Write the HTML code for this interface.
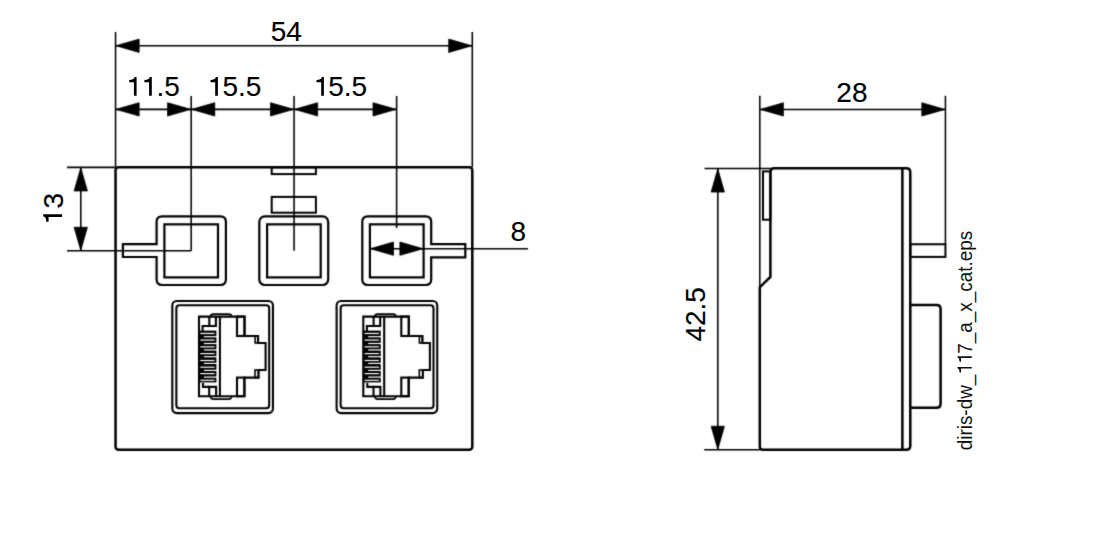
<!DOCTYPE html>
<html><head><meta charset="utf-8"><style>
html,body{margin:0;padding:0;background:#fff;}
svg{display:block;}
text{font-family:"Liberation Sans",sans-serif;fill:#000;stroke:#000;stroke-width:0.15;}
</style></head><body>
<svg width="1110" height="533" viewBox="0 0 1110 533" fill="none" stroke="#000" stroke-linejoin="miter" stroke-linecap="butt">
<defs><filter id="bl" x="-1%" y="-1%" width="102%" height="102%" color-interpolation-filters="sRGB"><feConvolveMatrix order="3" kernelMatrix="0.0192 0.1001 0.0192 0.1001 0.5228 0.1001 0.0192 0.1001 0.0192" divisor="1" preserveAlpha="false"/></filter></defs>
<rect x="0" y="0" width="1110" height="533" fill="#fff" stroke="none"/>
<g filter="url(#bl)">
<line x1="115.55" y1="32" x2="115.55" y2="167.35" stroke-width="1.55"/>
<line x1="472.3" y1="32" x2="472.3" y2="167.35" stroke-width="1.55"/>
<line x1="115.55" y1="45.78" x2="472.3" y2="45.78" stroke-width="1.55"/>
<polygon points="115.95,45.78 139.15,39.12 139.15,52.44" fill="#000" stroke="#000" stroke-width="0.8" stroke-linejoin="round"/>
<polygon points="471.90,45.78 448.70,39.12 448.70,52.44" fill="#000" stroke="#000" stroke-width="0.8" stroke-linejoin="round"/>
<line x1="191.19" y1="96" x2="191.19" y2="250.84" stroke-width="1.55"/>
<line x1="294.07" y1="96" x2="294.07" y2="250.84" stroke-width="1.55"/>
<line x1="396.62" y1="96" x2="396.62" y2="228" stroke-width="1.55"/>
<line x1="115.55" y1="109.37" x2="396.62" y2="109.37" stroke-width="1.55"/>
<polygon points="115.95,109.37 139.15,102.71 139.15,116.03" fill="#000" stroke="#000" stroke-width="0.8" stroke-linejoin="round"/>
<polygon points="190.79,109.37 167.59,102.71 167.59,116.03" fill="#000" stroke="#000" stroke-width="0.8" stroke-linejoin="round"/>
<polygon points="191.59,109.37 214.79,102.71 214.79,116.03" fill="#000" stroke="#000" stroke-width="0.8" stroke-linejoin="round"/>
<polygon points="293.67,109.37 270.47,102.71 270.47,116.03" fill="#000" stroke="#000" stroke-width="0.8" stroke-linejoin="round"/>
<polygon points="294.47,109.37 317.67,102.71 317.67,116.03" fill="#000" stroke="#000" stroke-width="0.8" stroke-linejoin="round"/>
<polygon points="396.22,109.37 373.02,102.71 373.02,116.03" fill="#000" stroke="#000" stroke-width="0.8" stroke-linejoin="round"/>
<line x1="67" y1="167.38" x2="115.55" y2="167.38" stroke-width="1.55"/>
<line x1="67" y1="250.84" x2="191.19" y2="250.84" stroke-width="1.55"/>
<line x1="80.78" y1="167.38" x2="80.78" y2="250.84" stroke-width="1.55"/>
<polygon points="80.78,167.78 74.12,190.98 87.44,190.98" fill="#000" stroke="#000" stroke-width="0.8" stroke-linejoin="round"/>
<polygon points="80.78,250.44 74.12,227.24 87.44,227.24" fill="#000" stroke="#000" stroke-width="0.8" stroke-linejoin="round"/>
<rect x="115.55" y="167.35" width="356.75" height="282.49" rx="3" stroke-width="2.5"/>
<rect x="271.7" y="167.35" width="44.20" height="6.75" rx="0" stroke-width="2.0"/>
<rect x="271.7" y="196.9" width="44.20" height="15.80" rx="0" stroke-width="2.0"/>
<path d="M156.6,244.1 L122.9,244.1 L122.9,257 L156.6,257 L156.6,279.5 Q156.6,285.0 162.1,285.0 L220.4,285.0 Q225.9,285.0 225.9,279.5 L225.9,221.8 Q225.9,216.3 220.4,216.3 L162.1,216.3 Q156.6,216.3 156.6,221.8 Z" stroke-width="2.2"/>
<rect x="164.4" y="224.35" width="53.60" height="53.05" rx="0" stroke-width="2.2"/>
<rect x="259.3" y="216.3" width="68.90" height="68.70" rx="5.5" stroke-width="2.2"/>
<rect x="267.1" y="224.35" width="53.60" height="53.05" rx="0" stroke-width="2.2"/>
<path d="M431.2,257.4 L465.3,257.4 L465.3,244.2 L431.2,244.2 L431.2,221.8 Q431.2,216.3 425.7,216.3 L367.8,216.3 Q362.3,216.3 362.3,221.8 L362.3,279.5 Q362.3,285.0 367.8,285.0 L425.7,285.0 Q431.2,285.0 431.2,279.5 Z" stroke-width="2.2"/>
<rect x="369.9" y="224.35" width="53.70" height="53.05" rx="0" stroke-width="2.2"/>
<line x1="369.9" y1="248.7" x2="528" y2="248.7" stroke-width="1.55"/>
<polygon points="370.30,248.70 393.50,242.04 393.50,255.36" fill="#000" stroke="#000" stroke-width="0.8" stroke-linejoin="round"/>
<polygon points="423.10,248.70 399.90,242.04 399.90,255.36" fill="#000" stroke="#000" stroke-width="0.8" stroke-linejoin="round"/>
<rect x="172.3" y="300.95" width="100.65" height="112.15" rx="4.5" stroke-width="2.1"/>
<rect x="176.36" y="305.3" width="92.84" height="103.00" rx="3" stroke-width="2.1"/>
<path d="M199,316.6 L244.5,316.6 L244.5,336 L258.1,336 L258.1,343 L265.6,343 L265.6,370 L258.5,370 L258.5,377.6 L244.4,377.6 L244.4,396.2 L199,396.2 Z" stroke-width="2.1"/>
<path d="M210.4,316.6 Q210.8,314.1 213.2,314.1 L229,314.1 Q231.3,314.1 231.7,316.6" stroke-width="1.7"/>
<path d="M210.4,396.2 Q210.8,399.1 213.2,399.1 L229,399.1 Q231.3,399.1 231.7,396.2" stroke-width="1.7"/>
<rect x="237" y="316.6" width="7.50" height="19.40" rx="0" stroke-width="2.1"/>
<rect x="237" y="377.6" width="7.40" height="18.60" rx="0" stroke-width="2.1"/>
<rect x="255.1" y="336" width="3.00" height="7.00" rx="0" stroke-width="1.6"/>
<rect x="255" y="370" width="3.50" height="7.60" rx="0" stroke-width="1.6"/>
<line x1="219.9" y1="316.6" x2="219.9" y2="396.2" stroke-width="2.1"/>
<path d="M209.3,316.6 L209.3,326 L215.9,326 L215.9,316.6" stroke-width="2.1"/>
<path d="M202.6,331 L202.6,326 L209.3,326" stroke-width="2.1"/>
<path d="M209.2,396.2 L209.2,386.9 L216.1,386.9 L216.1,396.2" stroke-width="2.1"/>
<path d="M203,383 L203,386.9 L209.2,386.9" stroke-width="2.1"/>
<rect x="198.5" y="330.6" width="17.9" height="51.8" fill="#000" stroke="none"/>
<rect x="200.3" y="332.86" width="14.3" height="1.2" fill="#fff" stroke="none"/>
<rect x="200.3" y="339.50" width="14.3" height="1.2" fill="#fff" stroke="none"/>
<rect x="200.3" y="346.25" width="14.3" height="1.2" fill="#fff" stroke="none"/>
<rect x="200.3" y="353.00" width="14.3" height="1.2" fill="#fff" stroke="none"/>
<rect x="200.3" y="359.90" width="14.3" height="1.2" fill="#fff" stroke="none"/>
<rect x="200.3" y="366.60" width="14.3" height="1.2" fill="#fff" stroke="none"/>
<rect x="200.3" y="373.00" width="14.3" height="1.2" fill="#fff" stroke="none"/>
<rect x="200.3" y="379.70" width="14.3" height="1.2" fill="#fff" stroke="none"/>
<rect x="203.9" y="336.10" width="14.5" height="1.2" fill="#fff" stroke="none"/>
<rect x="203.9" y="342.90" width="14.5" height="1.2" fill="#fff" stroke="none"/>
<rect x="203.9" y="349.35" width="14.5" height="1.2" fill="#fff" stroke="none"/>
<rect x="203.9" y="356.10" width="14.5" height="1.2" fill="#fff" stroke="none"/>
<rect x="203.9" y="362.80" width="14.5" height="1.2" fill="#fff" stroke="none"/>
<rect x="203.9" y="369.80" width="14.5" height="1.2" fill="#fff" stroke="none"/>
<rect x="203.9" y="376.50" width="14.5" height="1.2" fill="#fff" stroke="none"/>
<rect x="336.6" y="300.95" width="100.65" height="112.15" rx="4.5" stroke-width="2.1"/>
<rect x="340.66" y="305.3" width="92.84" height="103.00" rx="3" stroke-width="2.1"/>
<path d="M363.3,316.6 L408.8,316.6 L408.8,336 L422.4,336 L422.4,343 L429.9,343 L429.9,370 L422.8,370 L422.8,377.6 L408.7,377.6 L408.7,396.2 L363.3,396.2 Z" stroke-width="2.1"/>
<path d="M374.7,316.6 Q375.1,314.1 377.5,314.1 L393.3,314.1 Q395.6,314.1 396.0,316.6" stroke-width="1.7"/>
<path d="M374.7,396.2 Q375.1,399.1 377.5,399.1 L393.3,399.1 Q395.6,399.1 396.0,396.2" stroke-width="1.7"/>
<rect x="401.3" y="316.6" width="7.50" height="19.40" rx="0" stroke-width="2.1"/>
<rect x="401.3" y="377.6" width="7.40" height="18.60" rx="0" stroke-width="2.1"/>
<rect x="419.4" y="336" width="3.00" height="7.00" rx="0" stroke-width="1.6"/>
<rect x="419.3" y="370" width="3.50" height="7.60" rx="0" stroke-width="1.6"/>
<line x1="384.2" y1="316.6" x2="384.2" y2="396.2" stroke-width="2.1"/>
<path d="M373.6,316.6 L373.6,326 L380.2,326 L380.2,316.6" stroke-width="2.1"/>
<path d="M366.9,331 L366.9,326 L373.6,326" stroke-width="2.1"/>
<path d="M373.5,396.2 L373.5,386.9 L380.4,386.9 L380.4,396.2" stroke-width="2.1"/>
<path d="M367.3,383 L367.3,386.9 L373.5,386.9" stroke-width="2.1"/>
<rect x="362.8" y="330.6" width="17.9" height="51.8" fill="#000" stroke="none"/>
<rect x="364.6" y="332.86" width="14.3" height="1.2" fill="#fff" stroke="none"/>
<rect x="364.6" y="339.50" width="14.3" height="1.2" fill="#fff" stroke="none"/>
<rect x="364.6" y="346.25" width="14.3" height="1.2" fill="#fff" stroke="none"/>
<rect x="364.6" y="353.00" width="14.3" height="1.2" fill="#fff" stroke="none"/>
<rect x="364.6" y="359.90" width="14.3" height="1.2" fill="#fff" stroke="none"/>
<rect x="364.6" y="366.60" width="14.3" height="1.2" fill="#fff" stroke="none"/>
<rect x="364.6" y="373.00" width="14.3" height="1.2" fill="#fff" stroke="none"/>
<rect x="364.6" y="379.70" width="14.3" height="1.2" fill="#fff" stroke="none"/>
<rect x="368.2" y="336.10" width="14.5" height="1.2" fill="#fff" stroke="none"/>
<rect x="368.2" y="342.90" width="14.5" height="1.2" fill="#fff" stroke="none"/>
<rect x="368.2" y="349.35" width="14.5" height="1.2" fill="#fff" stroke="none"/>
<rect x="368.2" y="356.10" width="14.5" height="1.2" fill="#fff" stroke="none"/>
<rect x="368.2" y="362.80" width="14.5" height="1.2" fill="#fff" stroke="none"/>
<rect x="368.2" y="369.80" width="14.5" height="1.2" fill="#fff" stroke="none"/>
<rect x="368.2" y="376.50" width="14.5" height="1.2" fill="#fff" stroke="none"/>
<line x1="759.8" y1="95.8" x2="759.8" y2="287.2" stroke-width="1.55"/>
<line x1="945.43" y1="95.8" x2="945.43" y2="244.2" stroke-width="1.55"/>
<line x1="759.8" y1="109.4" x2="945.43" y2="109.4" stroke-width="1.55"/>
<polygon points="760.20,109.40 783.40,102.74 783.40,116.06" fill="#000" stroke="#000" stroke-width="0.8" stroke-linejoin="round"/>
<polygon points="945.03,109.40 921.83,102.74 921.83,116.06" fill="#000" stroke="#000" stroke-width="0.8" stroke-linejoin="round"/>
<line x1="704.5" y1="168.46" x2="772" y2="168.46" stroke-width="1.55"/>
<line x1="704.2" y1="449.82" x2="759.8" y2="449.82" stroke-width="1.55"/>
<line x1="717.8" y1="168.46" x2="717.8" y2="449.82" stroke-width="1.55"/>
<polygon points="717.80,168.86 711.14,192.06 724.46,192.06" fill="#000" stroke="#000" stroke-width="0.8" stroke-linejoin="round"/>
<polygon points="717.80,449.42 711.14,426.22 724.46,426.22" fill="#000" stroke="#000" stroke-width="0.8" stroke-linejoin="round"/>
<path d="M770.4,172.3 Q770.4,168.3 774.4,168.3 L906.28,168.3 Q910.28,168.3 910.28,172.3 L910.28,445.82 Q910.28,449.82 906.28,449.82 L762.8,449.82 Q759.8,449.82 759.8,446.82 L759.8,287.2 L770.4,277 Z" stroke-width="2.5"/>
<line x1="902.39" y1="168.3" x2="902.39" y2="449.82" stroke-width="2.5"/>
<rect x="763" y="171.4" width="7.40" height="48.30" rx="0" stroke-width="2.0"/>
<rect x="910.28" y="244.25" width="35.15" height="12.65" rx="0" stroke-width="2.0"/>
<path d="M910.28,305 L936.6,305 Q940.6,305 940.6,309 L940.6,403.7 Q940.6,407.7 936.6,407.7 L910.28,407.7" stroke-width="2.5"/>
</g>
<text x="286.3" y="40.7" font-size="28" text-anchor="middle">54</text>
<text x="152.6" y="95.9" font-size="28" text-anchor="middle">  .5</text>
<text x="234.1" y="95.9" font-size="28" text-anchor="middle"> 5.5</text>
<text x="339.9" y="95.9" font-size="28" text-anchor="middle"> 5.5</text>
<path d="M-2.7,0 L0,0 L0,-18.9 L-2.0,-18.9 C-2.6,-16.6 -4.5,-15.9 -7.4,-15.9 L-7.4,-13.5 L-2.7,-13.5 Z" transform="translate(136.6 95.8)" fill="#000" stroke="none"/>
<path d="M-2.7,0 L0,0 L0,-18.9 L-2.0,-18.9 C-2.6,-16.6 -4.5,-15.9 -7.4,-15.9 L-7.4,-13.5 L-2.7,-13.5 Z" transform="translate(151.8 95.8)" fill="#000" stroke="none"/>
<path d="M-2.7,0 L0,0 L0,-18.9 L-2.0,-18.9 C-2.6,-16.6 -4.5,-15.9 -7.4,-15.9 L-7.4,-13.5 L-2.7,-13.5 Z" transform="translate(217.9 95.8)" fill="#000" stroke="none"/>
<path d="M-2.7,0 L0,0 L0,-18.9 L-2.0,-18.9 C-2.6,-16.6 -4.5,-15.9 -7.4,-15.9 L-7.4,-13.5 L-2.7,-13.5 Z" transform="translate(323.9 95.8)" fill="#000" stroke="none"/>
<text x="0" y="0" transform="translate(63 208.5) rotate(-90)" font-size="28" text-anchor="middle"> 3</text>
<path d="M-2.7,0 L0,0 L0,-18.9 L-2.0,-18.9 C-2.6,-16.6 -4.5,-15.9 -7.4,-15.9 L-7.4,-13.5 L-2.7,-13.5 Z" transform="translate(62.1 214.3) rotate(-90)" fill="#000" stroke="none"/>
<text x="518.3" y="241.3" font-size="28" text-anchor="middle">8</text>
<text x="851.9" y="101.9" font-size="28" text-anchor="middle">28</text>
<text x="0" y="0" transform="translate(704.5 314.3) rotate(-90)" font-size="28" text-anchor="middle">42.5</text>
<text x="0" y="0" transform="translate(971.8 450.3) rotate(-90)" font-size="20.5" textLength="219.5" lengthAdjust="spacingAndGlyphs" style="stroke:none;fill:#111">diris-dw_  7_a_x_cat.eps</text>
<path d="M-2.1,0 L0,0 L0,-18.9 L-1.7,-18.9 C-2.3,-16.8 -4.3,-16.2 -7.2,-16.2 L-7.2,-14.2 L-2.1,-14.2 Z" transform="translate(971.8 367.0) rotate(-90) scale(0.76)" fill="#111" stroke="none"/>
<path d="M-2.1,0 L0,0 L0,-18.9 L-1.7,-18.9 C-2.3,-16.8 -4.3,-16.2 -7.2,-16.2 L-7.2,-14.2 L-2.1,-14.2 Z" transform="translate(971.8 356.3) rotate(-90) scale(0.76)" fill="#111" stroke="none"/>
</svg>
</body></html>
